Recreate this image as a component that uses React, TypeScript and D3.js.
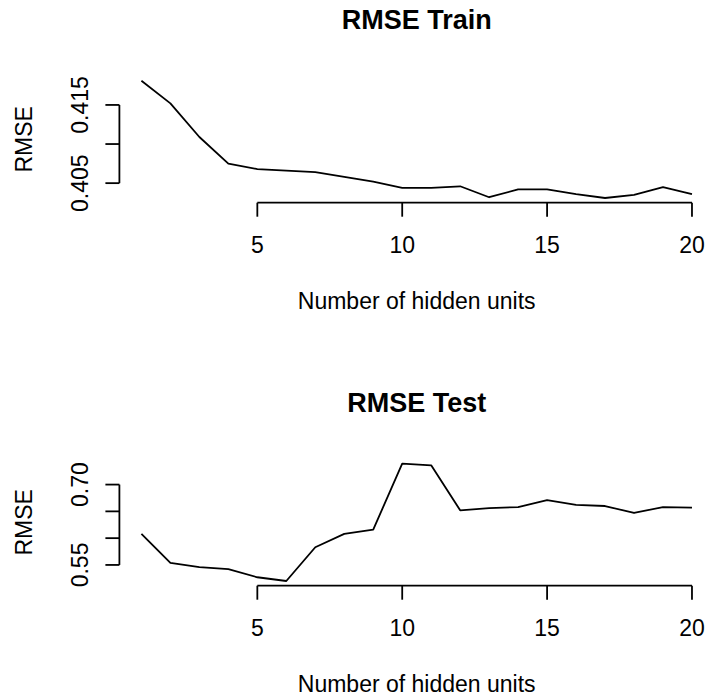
import * as d3 from 'd3';

const hiddenUnits = [1, 2, 3, 4, 5, 6, 7, 8, 9, 10, 11, 12, 13, 14, 15, 16, 17, 18, 19, 20];

const trainRmse = [
  0.4181, 0.4152, 0.4109, 0.4075, 0.4068, 0.4066, 0.4064, 0.4058, 0.4052, 0.4044,
  0.4044, 0.4046, 0.4032, 0.4042, 0.4042, 0.4036, 0.4031, 0.4035, 0.4045, 0.4036,
];

const testRmse = [
  0.608, 0.554, 0.546, 0.542, 0.527, 0.52, 0.583, 0.608, 0.616, 0.739,
  0.736, 0.652, 0.656, 0.658, 0.671, 0.662, 0.66, 0.647, 0.658, 0.657,
];

const xTicks = [5, 10, 15, 20];
const trainTicks = [0.405, 0.41, 0.415];
const trainTickLabels = ['0.405', '', '0.415'];
const testTicks = [0.55, 0.6, 0.65, 0.7];
const testTickLabels = ['0.55', '', '', '0.70'];

const W = 706;
const H = 696;
const FONT = '"Liberation Sans", Arial, Helvetica, sans-serif';
const LW = 1.8;
const TICK = 14;

// R style: axis range padded 4% on each side
const padded = (vals: number[]): [number, number] => {
  const [lo, hi] = d3.extent(vals) as [number, number];
  const p = (hi - lo) * 0.04;
  return [lo - p, hi + p];
};

const x = d3.scaleLinear().domain(padded(hiddenUnits)).range([119.4, 714]);

type PanelProps = {
  title: string;
  values: number[];
  ticks: number[];
  tickLabels: string[];
  top: number;
};

function Panel({ title, values, ticks, tickLabels, top }: PanelProps) {
  const plotTop = top + 76;
  const plotBottom = top + 202.7;
  const y = d3.scaleLinear().domain(padded(values)).range([plotBottom, plotTop]);
  const cx = (x.range()[0] + x.range()[1]) / 2;
  const cy = (plotTop + plotBottom) / 2;

  const line = d3
    .line<number>()
    .x((_, i) => x(hiddenUnits[i]))
    .y((d) => y(d));

  const axisX = x.range()[0];
  return (
    <g>
      <text x={cx} y={top + 29.3} textAnchor="middle" fontSize={27} fontWeight="bold">
        {title}
      </text>
      <path d={line(values) ?? ''} fill="none" stroke="#000" strokeWidth={LW} strokeLinejoin="round" />

      {/* x axis */}
      <line
        x1={x(xTicks[0])}
        x2={x(xTicks[xTicks.length - 1])}
        y1={plotBottom}
        y2={plotBottom}
        stroke="#000"
        strokeWidth={LW}
      />
      {xTicks.map((t) => (
        <g key={t}>
          <line x1={x(t)} x2={x(t)} y1={plotBottom} y2={plotBottom + TICK} stroke="#000" strokeWidth={LW} />
          <text x={x(t)} y={top + 252.7} textAnchor="middle" fontSize={23}>
            {t}
          </text>
        </g>
      ))}
      <text x={cx} y={top + 309} textAnchor="middle" fontSize={23}>
        Number of hidden units
      </text>

      {/* y axis */}
      <line
        x1={axisX}
        x2={axisX}
        y1={y(ticks[0])}
        y2={y(ticks[ticks.length - 1])}
        stroke="#000"
        strokeWidth={LW}
      />
      {ticks.map((t, i) => (
        <g key={t}>
          <line x1={axisX - TICK} x2={axisX} y1={y(t)} y2={y(t)} stroke="#000" strokeWidth={LW} />
          {tickLabels[i] && (
            <text
              transform={`translate(88.3,${y(t)}) rotate(-90)`}
              textAnchor="middle"
              fontSize={23}
            >
              {tickLabels[i]}
            </text>
          )}
        </g>
      ))}
      <text transform={`translate(32.3,${cy}) rotate(-90)`} textAnchor="middle" fontSize={23}>
        RMSE
      </text>
    </g>
  );
}

export default function App() {
  return (
    <svg
      width={W}
      height={H}
      viewBox={`0 0 ${W} ${H}`}
      style={{ position: 'absolute', left: 0, top: 0, background: '#fff' }}
      fontFamily={FONT}
      fill="#000"
    >
      <rect width={W} height={H} fill="#fff" />
      <Panel title="RMSE Train" values={trainRmse} ticks={trainTicks} tickLabels={trainTickLabels} top={0} />
      <Panel title="RMSE Test" values={testRmse} ticks={testTicks} tickLabels={testTickLabels} top={383} />
    </svg>
  );
}
